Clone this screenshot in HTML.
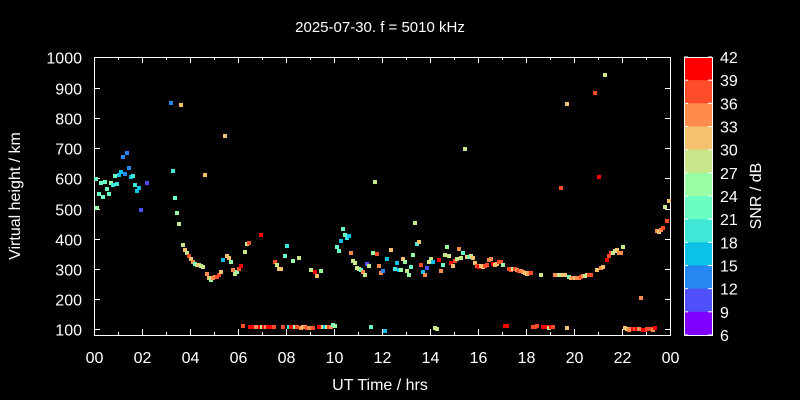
<!DOCTYPE html>
<html><head><meta charset="utf-8"><style>
html,body{margin:0;padding:0;background:#000;width:800px;height:400px;overflow:hidden}
svg text{font-family:"Liberation Sans",sans-serif;fill:#fff}
</style></head><body>
<svg id="s" width="800" height="400" viewBox="0 0 800 400" xmlns="http://www.w3.org/2000/svg">
<rect width="800" height="400" fill="#000"/>
<text x="380" y="32" font-size="15" text-anchor="middle">2025-07-30. f = 5010 kHz</text>
<g id="axes" stroke="#fff" stroke-width="1" fill="none">
<rect x="94.5" y="57.5" width="576" height="278"/>
</g>
<g id="ticks" stroke="#fff" stroke-width="1"></g>
<g id="lab" font-size="16"></g>
<g id="pts"></g>
<g id="cb"></g>
<text x="380" y="390" font-size="16" text-anchor="middle">UT Time / hrs</text>
<text transform="translate(20,196) rotate(-90)" font-size="16" text-anchor="middle">Virtual height / km</text>
<text transform="translate(761,196) rotate(-90)" font-size="16" text-anchor="middle">SNR / dB</text>
</svg>
<script>
var NS="http://www.w3.org/2000/svg";
function el(p,t,a,txt){var e=document.createElementNS(NS,t);for(var k in a)e.setAttribute(k,a[k]);if(txt!==undefined)e.textContent=txt;document.getElementById(p).appendChild(e);}
for(var v=100;v<=1000;v+=100){var y=335.5-(v-80)*0.3022;y=Math.round(y)+0.5;
el("ticks","line",{x1:94,x2:100,y1:y,y2:y});el("ticks","line",{x1:665,x2:671,y1:y,y2:y});
el("lab","text",{x:82,y:y+6,"text-anchor":"end"},String(v));}
for(var h=0;h<=24;h++){var x=Math.round(94+h*24)+0.5;var L=(h%2==0)?6:3;
el("ticks","line",{x1:x,x2:x,y1:335,y2:335-L});el("ticks","line",{x1:x,x2:x,y1:57,y2:57+L});
if(h%2==0){var s=(h%24);el("lab","text",{x:x,y:363,"text-anchor":"middle"},(s<10?"0":"")+s);}}
var cols=["#ff0000","#ff4d2a","#ff8c4c","#f4c26e","#c8e68a","#99fda4","#6cfdc3","#3ee7d8","#0cc1e8","#2488f0","#5050fa","#8000ff"];
var ctop=57,cbot=335,bh=(cbot-ctop)/12;
for(var i=0;i<12;i++){el("cb","rect",{x:684,y:ctop+i*bh,width:28,height:bh+0.5,fill:cols[i]});}
el("cb","rect",{x:684.5,y:57.5,width:28,height:278,fill:"none",stroke:"#fff"});
for(var i=0;i<=12;i++){var y=ctop+i*bh;el("cb","line",{x1:684,x2:688,y1:y,y2:y,stroke:"#fff"});el("cb","line",{x1:708,x2:712,y1:y,y2:y,stroke:"#fff"});
el("lab","text",{x:720,y:y+6},String(42-3*i));}
var C={R:cols[0],O:cols[1],o:cols[2],Y:cols[3],L:cols[4],G:cols[5],T:cols[6],C:cols[7],S:cols[8],B:cols[9],P:cols[10]};
var d="96,179,T 97,208,G 99,194,T 101,183,T 103,197,T 105,182,T 107,189,T 109,194,T 111,183,G 113,185,C 115,176,T 117,184,C 119,175,S 121,172,S 123,157,B 125,174,B 127,153,B 129,168,B 131,177,S 133,176,C 135,185,C 137,191,S 139,188,S 141,210,P 147,183,P 171,103,B 181,105,Y 173,171,C 175,198,T 177,213,G 179,224,L 183,245,L 185,250,Y 187,253,L 189,256,O 191,259,Y 193,262,o 195,264,T 197,265,L 199,265,Y 201,266,L 203,267,L 205,175,Y 207,274,o 209,278,Y 211,280,G 213,278,o 215,277,o 217,277,O 219,275,O 221,272,Y 223,260,S 225,136,Y 227,256,Y 229,258,Y 231,262,G 233,270,o 235,274,L 237,272,G 239,269,O 241,266,R 245,252,L 247,244,L 249,243,O 261,235,R 275,262,O 277,265,L 279,269,Y 281,269,Y 285,256,T 287,246,C 293,261,G 299,258,L 311,270,L 315,272,R 317,276,Y 321,271,G 337,247,T 339,251,T 341,241,S 343,229,T 345,235,T 347,238,C 349,236,S 351,253,o 353,261,L 355,263,L 357,268,L 359,269,L 361,270,T 363,272,o 365,275,L 367,264,P 369,266,L 373,253,G 377,254,O 379,266,o 381,273,o 383,271,B 387,259,S 391,250,Y 395,269,C 397,263,S 399,270,S 401,270,G 403,259,Y 405,262,G 407,271,L 409,275,G 411,267,T 413,255,G 415,223,L 417,244,C 419,242,Y 421,265,O 423,272,S 425,275,o 427,268,P 429,262,L 431,259,L 433,262,S 439,260,R 441,271,o 443,265,T 445,255,L 447,247,G 449,256,L 451,263,R 453,266,Y 455,261,O 457,259,L 459,249,o 461,258,L 463,253,T 467,257,Y 469,257,T 471,256,L 473,258,Y 475,263,Y 477,266,O 479,267,R 481,266,Y 483,267,Y 485,266,O 487,265,O 489,260,o 491,259,o 493,264,R 495,265,Y 497,264,Y 499,262,O 501,262,O 503,265,G 509,269,O 511,270,O 513,269,L 515,269,O 517,270,o 519,271,O 521,271,o 523,272,o 525,273,Y 527,274,Y 529,273,o 531,273,O 541,275,L 555,275,o 557,275,o 559,275,L 563,275,Y 565,275,Y 569,277,T 571,278,Y 573,278,o 575,278,Y 577,278,o 579,278,o 581,277,O 583,276,o 585,276,L 587,275,L 589,275,O 591,275,O 597,270,Y 601,268,o 603,267,Y 607,260,R 609,256,O 611,253,O 613,253,L 615,251,L 617,250,Y 619,253,o 621,253,o 623,247,L 641,298,o 657,231,o 659,232,Y 661,230,o 663,228,O 667,221,O 665,207,L 669,201,Y 605,75,L 595,93,O 599,177,R 561,188,O 567,104,Y 375,182,L 465,149,L "+
"243,326,O 250,327,R 252,327,R 254,327,R 256,327,o 258,327,o 260,327,R 262,327,L 264,327,R 266,327,o 268,327,R 270,327,R 272,327,R 274,327,O 283,327,O 289,327,C 291,327,R 295,327,G 297,327,O 301,328,o 303,327,Y 305,327,o 307,328,O 309,328,o 313,328,O 319,327,R 323,327,L 325,327,S 327,327,L 329,327,O 331,327,o 333,325,T 335,326,G 371,327,T 385,331,S 435,328,L 437,329,L 505,326,R 507,326,R 533,327,O 535,327,O 537,326,O 543,327,R 545,327,R 547,327,R 549,328,L 551,327,R 553,327,O 567,328,Y 625,328,Y 627,329,Y 629,330,o 631,329,o 633,329,R 635,329,O 637,329,R 639,329,o 643,330,R 645,330,R 647,329,O 649,329,O 651,329,O 653,330,o 655,328,R";
d.split(" ").forEach(function(p){var a=p.split(",");el("pts","rect",{x:+a[0]-2,y:+a[1]-2,width:4,height:4,fill:C[a[2]]});});
</script>
</body></html>
